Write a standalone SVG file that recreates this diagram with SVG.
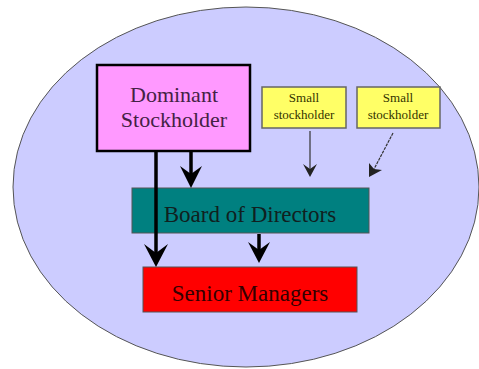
<svg xmlns="http://www.w3.org/2000/svg" width="479" height="369" viewBox="0 0 479 369">
  <style>
    .serif { font-family: "Liberation Serif", "Times New Roman", serif; text-anchor: middle; }
    .thick { stroke: #000; stroke-width: 3.5; fill: none; }
    .thin { stroke: #333; stroke-width: 1.2; fill: none; }
    .head { fill: #000; stroke: none; }
    .headThin { fill: #222; stroke: none; }
  </style>
  <rect width="479" height="369" fill="#ffffff"/>
  <ellipse cx="246" cy="187" rx="233" ry="180" fill="#ccccff" stroke="#555" stroke-width="1"/>

  <g id="dominant">
    <rect x="97" y="65" width="153" height="86" fill="#ff99ff" stroke="#000" stroke-width="2.5"/>
    <text class="serif" x="174" y="102" font-size="22" fill="#442244">Dominant</text>
    <text class="serif" x="174" y="127" font-size="22" fill="#442244">Stockholder</text>
  </g>

  <g id="small1">
    <rect x="262" y="87" width="84" height="41" fill="#ffff66" stroke="#666" stroke-width="1.5"/>
    <text class="serif" x="304" y="102" font-size="13" fill="#333300">Small</text>
    <text class="serif" x="304" y="119" font-size="13" fill="#333300">stockholder</text>
  </g>

  <g id="small2">
    <rect x="357" y="87" width="83" height="41" fill="#ffff66" stroke="#666" stroke-width="1.5"/>
    <text class="serif" x="398" y="102" font-size="13" fill="#333300">Small</text>
    <text class="serif" x="398" y="119" font-size="13" fill="#333300">stockholder</text>
  </g>

  <g id="board">
    <rect x="132" y="188" width="237" height="45" fill="#008080" stroke="#555" stroke-width="1"/>
    <text class="serif" x="250" y="222" font-size="23" fill="#102020">Board of Directors</text>
  </g>

  <g id="senior">
    <rect x="143" y="267" width="214" height="45" fill="#ff0000" stroke="#555" stroke-width="1"/>
    <text class="serif" x="250" y="301" font-size="23" fill="#330000">Senior Managers</text>
  </g>

  <g id="connectors">
    <!-- dominant stockholder to senior managers -->
    <line class="thick" x1="156" y1="152" x2="156" y2="258"/>
    <path class="head" d="M144,244 L156,267 L168,244 L156,253 Z"/>
    <!-- dominant stockholder to board -->
    <line class="thick" x1="191" y1="152" x2="191" y2="180"/>
    <path class="head" d="M180,166 L191,188 L202,166 L191,174 Z"/>
    <!-- board to senior managers -->
    <line class="thick" x1="259" y1="234" x2="259" y2="255"/>
    <path class="head" d="M248,242 L259,263 L270,242 L259,250 Z"/>
    <!-- small stockholders to board -->
    <line class="thin" x1="310" y1="131" x2="310" y2="170"/>
    <path class="headThin" d="M303,164 L310,177 L317,164 L310,169 Z"/>
    <line class="thin" x1="393" y1="133" x2="373" y2="171" stroke-dasharray="3,1"/>
    <path class="headThin" d="M369,163 L369,177 L382,170 L374,169 Z"/>
  </g>
</svg>
